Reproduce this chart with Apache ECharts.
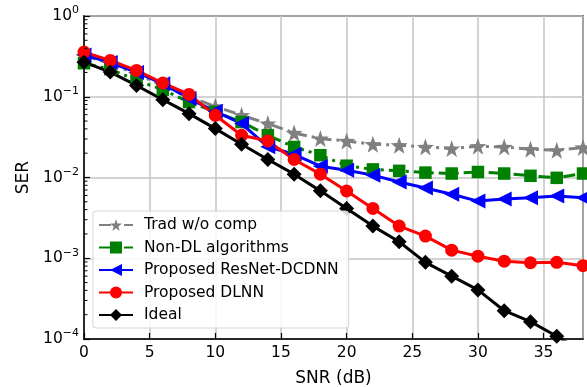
<!DOCTYPE html>
<html>
<head>
<meta charset="utf-8">
<script src="https://cdn.jsdelivr.net/npm/echarts@6/dist/echarts.min.js"></script>
<style>
  html, body { margin: 0; padding: 0; background: #fff; }
  #chart { width: 587px; height: 387px; }
</style>
</head>
<body>
<div id="chart"></div>
<script>
// SNR points (dB)
var snr = [0, 2, 4, 6, 8, 10, 12, 14, 16, 18, 20, 22, 24, 26, 28, 30, 32, 34, 36, 38];

// SER curves
var tradNoComp = [0.32, 0.26, 0.19, 0.14, 0.1, 0.076, 0.059, 0.0465, 0.0356, 0.0303, 0.0283, 0.0258, 0.0251, 0.0239, 0.0228, 0.0244, 0.0239, 0.0224, 0.0217, 0.0236];
var nonDL = [0.26, 0.22, 0.16, 0.122, 0.086, 0.065, 0.0486, 0.0333, 0.0239, 0.0189, 0.014, 0.0126, 0.0121, 0.0115, 0.0112, 0.0117, 0.0112, 0.0105, 0.0099, 0.0112];
var resnetDCDNN = [0.33, 0.265, 0.2, 0.145, 0.095, 0.066, 0.0465, 0.024, 0.0194, 0.0138, 0.0123, 0.0107, 0.0088, 0.0074, 0.0062, 0.0051, 0.0054, 0.0056, 0.0059, 0.0056];
var dlnn = [0.357, 0.282, 0.212, 0.148, 0.107, 0.0589, 0.0333, 0.0283, 0.0167, 0.011, 0.0068, 0.00414, 0.0025, 0.00188, 0.00126, 0.00106, 0.00092, 0.00088, 0.00089, 0.00081];
var ideal = [0.268, 0.202, 0.138, 0.092, 0.0618, 0.0403, 0.0258, 0.0167, 0.011, 0.00683, 0.00414, 0.0025, 0.0016, 0.00089, 0.0006, 0.000405, 0.000224, 0.000164, 0.000108, 0.00007];

var names = ['Trad w/o comp', 'Non-DL algorithms', 'Proposed ResNet-DCDNN', 'Proposed DLNN', 'Ideal'];

// minor ticks of the log axis (2..9 x 10^k)
var minorVals = [];
[-4, -3, -2, -1].forEach(function (e) {
  for (var m = 2; m <= 9; m++) minorVals.push(m * Math.pow(10, e));
});

function starPath() {
  var pts = [];
  for (var i = 0; i < 10; i++) {
    var r = i % 2 === 0 ? 1 : 0.4;
    var a = -Math.PI / 2 + i * Math.PI / 5;
    pts.push((r * Math.cos(a)).toFixed(3) + ' ' + (r * Math.sin(a)).toFixed(3));
  }
  return 'path://M' + pts.join(' L') + ' Z';
}

function pairs(arr) {
  return arr.map(function (v, i) { return [snr[i], v]; });
}

var font = 'DejaVu Sans';
var chart = echarts.init(document.getElementById('chart'), null, { renderer: 'canvas' });

var option = {
  animation: false,
  textStyle: { fontFamily: font },
  grid: {
    left: 84, right: 4, top: 16, bottom: 48,
    outerBoundsMode: 'none', containLabel: false,
    show: true, borderColor: '#000', borderWidth: 1.5, backgroundColor: 'transparent'
  },
  legend: {
    orient: 'vertical',
    left: 93, top: 211,
    data: names,
    itemWidth: 34, itemHeight: 15, itemGap: 6.5,
    padding: [6, 10, 5, 5],
    backgroundColor: 'rgba(255,255,255,0.85)',
    borderColor: '#d5d5d5', borderWidth: 1, borderRadius: 3,
    textStyle: { fontFamily: font, fontSize: 15.5, color: '#000', padding: [0, 0, 0, 6] }
  },
  xAxis: {
    type: 'value', min: 0, max: 38, interval: 5,
    name: 'SNR (dB)', nameLocation: 'middle', nameGap: 31,
    nameTextStyle: { fontFamily: font, fontSize: 17, color: '#000' },
    axisLine: { show: true, lineStyle: { color: '#000', width: 1.5 } },
    axisTick: { show: true, inside: true, length: 6, lineStyle: { color: '#000', width: 1.2 } },
    axisLabel: {
      fontFamily: font, fontSize: 15.5, color: '#000', margin: 6, showMaxLabel: false,
      formatter: function (v) { return v % 5 === 0 ? String(v) : ''; }
    },
    splitLine: { show: true, lineStyle: { color: '#c4c4c4', width: 1.5 } }
  },
  yAxis: {
    type: 'log', logBase: 10, min: 1e-4, max: 1,
    name: 'SER', nameLocation: 'middle', nameGap: 52, nameRotate: 90,
    nameTextStyle: { fontFamily: font, fontSize: 17, color: '#000' },
    axisLine: { show: true, lineStyle: { color: '#000', width: 1.5 } },
    axisTick: { show: true, inside: true, length: 6, lineStyle: { color: '#000', width: 1.2 } },
    axisLabel: {
      margin: 5,
      formatter: function (v) {
        var e = Math.round(Math.log10(v));
        return '{b|10}{s|' + (e < 0 ? '\u2212' + (-e) : e) + '}';
      },
      rich: {
        b: { fontFamily: font, fontSize: 15.5, color: '#000', lineHeight: 22 },
        s: { fontFamily: font, fontSize: 11, color: '#000', lineHeight: 11, verticalAlign: 'top' }
      }
    },
    splitLine: { show: true, lineStyle: { color: '#c4c4c4', width: 1.5 } }
  },
  series: [
    {
      name: names[0], type: 'line', data: pairs(tradNoComp),
      symbol: starPath(), symbolSize: 17,
      itemStyle: { color: '#808080' },
      lineStyle: { color: '#808080', width: 3, type: [12, 5, 3, 5] }
    },
    {
      name: names[1], type: 'line', data: pairs(nonDL),
      symbol: 'rect', symbolSize: 12.5,
      itemStyle: { color: '#008000' },
      lineStyle: { color: '#008000', width: 3, type: [12, 5, 3, 5] }
    },
    {
      name: names[2], type: 'line', data: pairs(resnetDCDNN),
      symbol: 'triangle', symbolRotate: 90, symbolSize: 15,
      itemStyle: { color: '#0000ff' },
      lineStyle: { color: '#0000ff', width: 3 }
    },
    {
      name: names[3], type: 'line', data: pairs(dlnn),
      symbol: 'circle', symbolSize: 13,
      itemStyle: { color: '#ff0000' },
      lineStyle: { color: '#ff0000', width: 3 }
    },
    {
      name: names[4], type: 'line', data: pairs(ideal),
      symbol: 'diamond', symbolSize: 15,
      itemStyle: { color: '#000000' },
      lineStyle: { color: '#000000', width: 3 }
    },
    {
      type: 'custom', silent: true, z: 10, clip: false,
      data: minorVals.map(function (v) { return [0, v]; }),
      renderItem: function (params, api) {
        var p = api.coord([0, api.value(1)]);
        return {
          type: 'line',
          shape: { x1: p[0], y1: p[1], x2: p[0] + 3.5, y2: p[1] },
          style: { stroke: '#000', lineWidth: 1 }
        };
      }
    }
  ]
};

chart.setOption(option);
</script>
</body>
</html>
